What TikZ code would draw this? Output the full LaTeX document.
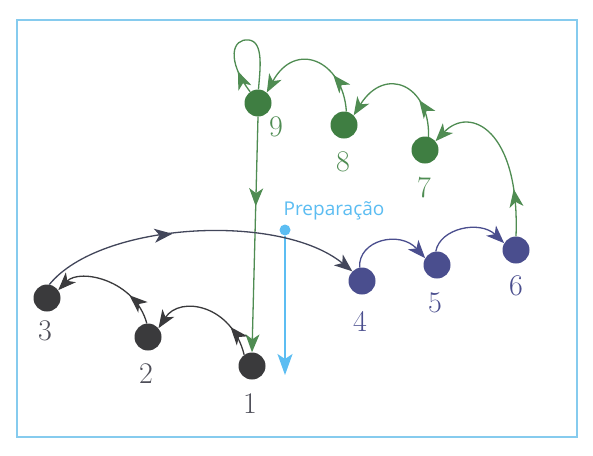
\documentclass[tikz,border=0pt]{standalone}
\usepackage{fontspec}
\newfontfamily\prepfont{Open Sans}
\usetikzlibrary{arrows.meta,decorations.markings}
\definecolor{frameblue}{HTML}{86CBEE}
\definecolor{prepblue}{HTML}{5CBDF2}
\definecolor{dkgray}{HTML}{3A3A3C}
\definecolor{numgray}{HTML}{4E4E58}
\definecolor{navy}{HTML}{4A4E8E}
\definecolor{grn}{HTML}{3F7E42}
\definecolor{grnnum}{HTML}{4E8C52}
\definecolor{grnline}{HTML}{4F8C52}
\definecolor{mixc}{HTML}{42465A}
\tikzset{
  dot/.style={circle,inner sep=0pt,minimum size=27pt},
  num/.style={font=\fontsize{30}{30}\selectfont,inner sep=0pt},
  arc/.style={line width=1.3pt,-{Stealth[length=18pt,width=14pt,inset=5pt]}},
  midarrow/.style={postaction={decorate},decoration={markings,mark=at position #1 with {\arrow{Stealth[length=18pt,width=14pt,inset=5pt]}}}}
}
\begin{document}
\begin{tikzpicture}[x=1pt,y=-1pt]
\useasboundingbox (0,0) rectangle (593,455);
\fill[white] (0,0) rectangle (593,455);
\draw[frameblue,line width=1.3pt] (17,20) rectangle (577,437);
% nodes
\node[dot,fill=dkgray] (n1) at (252,366) {};
\node[dot,fill=dkgray] (n2) at (148,337) {};
\node[dot,fill=dkgray] (n3) at (47,298) {};
\node[dot,fill=navy] (n4) at (362,281) {};
\node[dot,fill=navy] (n5) at (437,265) {};
\node[dot,fill=navy] (n6) at (516,250) {};
\node[dot,fill=grn] (n7) at (425,150) {};
\node[dot,fill=grn] (n8) at (344,125) {};
\node[dot,fill=grn] (n9) at (258,103) {};
% labels
\node[num,text=numgray] (l1) at (250,404) {1};
\node[num,text=numgray] (l2) at (146,374) {2};
\node[num,text=numgray] (l3) at (45,331) {3};
\node[num,text=navy] (l4) at (360,321) {4};
\node[num,text=navy] (l5) at (435,303) {5};
\node[num,text=navy] (l6) at (516,286) {6};
\node[num,text=grnnum] (l7) at (424,188) {7};
\node[num,text=grnnum] (l8) at (343,162) {8};
\node[num,text=grnnum] (l9) at (276,127) {9};
% preparation
\node[text=prepblue,font=\prepfont\fontsize{19}{19}\selectfont,inner sep=0pt] (prep) at (334,211) {Preparação};
\node[circle,fill=prepblue,inner sep=0pt,minimum size=11pt] (pdot) at (285,230) {};
\coordinate (pend) at (285,375);
\draw[prepblue,line width=1.8pt,-{Stealth[length=21pt,width=15pt,inset=5pt]}] (pdot) -- (pend);
% green descent 9 -> 1
\draw[grnline,arc,midarrow=0.38] (n9.south) -- (n1.north);
% black arcs
\draw[dkgray,arc,midarrow=0.27] (n1.125) .. controls (232,305) and (180,295) .. (n2.40);
\draw[dkgray,arc,midarrow=0.3] (n2.95) .. controls (135,280) and (80,268) .. (n3.35);
\draw[mixc,arc,midarrow=0.42] (n3.80) .. controls (100,222) and (280,212) .. (n4.135);
% blue arcs
\draw[navy,arc] (n4.100) .. controls (358,240) and (400,230) .. (n5.150);
\draw[navy,arc] (n5.95) .. controls (440,228) and (480,220) .. (n6.150);
% green arcs
\draw[grnline,arc,midarrow=0.28] (n6.north) .. controls (520,130) and (470,105) .. (n7.40);
\draw[grnline,arc,midarrow=0.32] (n7.75) .. controls (430,85) and (385,65) .. (n8.45);
\draw[grnline,arc,midarrow=0.32] (n8.80) .. controls (343,60) and (295,40) .. (n9.50);
% loop on 9
\draw[grnline,line width=1.3pt,midarrow=0.2] (n9.125) .. controls (226,60) and (232,38) .. (249,40) .. controls (264,42) and (260,70) .. (n9.88);
\end{tikzpicture}
\end{document}
